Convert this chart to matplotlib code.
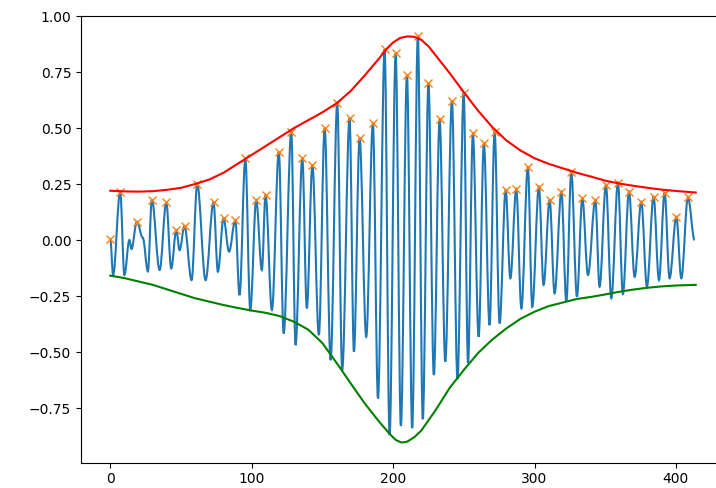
import matplotlib
matplotlib.use("Agg")
import matplotlib.pyplot as plt
from matplotlib.path import Path
from matplotlib.patches import PathPatch

# Blue signal: turning points (x, y)
sig_x = [0, 2, 7, 10, 13.5, 15, 18.8, 23, 26.6, 29.4, 34.9, 39.6, 43.1, 46.7, 49, 52.5,
         57.5, 61.5, 67.4, 73, 76.1, 80.1, 84, 88.4, 91.4, 95.5, 99, 103.2, 107.2, 109.8,
         114.3, 119.2, 122.6, 128, 131, 135.8, 139, 142.9, 147.5, 151.6, 155.8, 160.5,
         164, 169.2, 172.3, 176.3, 181, 185.7, 189.3, 194, 197.5, 201.8, 205.5, 209.8,
         213.5, 217.5, 221, 225, 228.8, 232.9, 236.9, 241.6, 245.5, 249.9, 253, 256.4,
         260.5, 264.2, 268.2, 271.8, 275.3, 279.6, 282.9, 287.1, 290.7, 295.3, 298.4,
         303.1, 306.4, 310.7, 314.2, 319, 322.5, 326, 330, 333.8, 337.8, 343, 346, 350.5,
         354.3, 359, 362.5, 366.8, 370.8, 375.5, 379.5, 384.2, 388, 392, 395.5, 400.3,
         403.8, 408.5, 413.2]
sig_y = [0.005, -0.156, 0.216, -0.156, 0.0, -0.04, 0.082, 0.01, -0.14, 0.179, -0.134, 0.168,
         -0.127, 0.045, -0.045, 0.062, -0.179, 0.25, -0.179, 0.168, -0.141, 0.097, -0.052,
         0.089, -0.246, 0.365, -0.3125, 0.179, -0.134, 0.20, -0.3125, 0.394, -0.417, 0.483,
         -0.469, 0.365, -0.305, 0.335, -0.424, 0.499, -0.536, 0.61, -0.58, 0.543, -0.499,
         0.454, -0.432, 0.521, -0.707, 0.851, -0.87, 0.833, -0.83, 0.737, -0.84, 0.91,
         -0.80, 0.70, -0.603, 0.539, -0.543, 0.622, -0.62, 0.655, -0.55, 0.476, -0.432,
         0.432, -0.38, 0.484, -0.372, 0.223, -0.171, 0.228, -0.305, 0.327, -0.298, 0.238,
         -0.2, 0.179, -0.238, 0.216, -0.275, 0.305, -0.253, 0.186, -0.156, 0.179, -0.208,
         0.246, -0.26, 0.256, -0.241, 0.216, -0.164, 0.171, -0.208, 0.193, -0.179, 0.211,
         -0.171, 0.104, -0.171, 0.19, 0.0]

# Detected peaks (orange crosses)
peak_x = [0, 7, 18.8, 29.4, 39.6, 46.7, 52.5, 61.5, 73, 80.1, 88.4, 95.5, 103.2, 109.8,
          119.2, 128, 135.8, 142.9, 151.6, 160.5, 169.2, 176.3, 185.7, 194, 201.8, 209.8,
          217.5, 225, 232.9, 241.6, 249.9, 256.4, 264.2, 271.8, 279.6, 287.1, 295.3, 303.1,
          310.7, 319, 326, 333.8, 343, 350.5, 359, 366.8, 375.5, 384.2, 392, 400.3, 408.5]
peak_y = [0.005, 0.216, 0.082, 0.179, 0.168, 0.045, 0.062, 0.25, 0.168, 0.097, 0.089, 0.365,
          0.179, 0.20, 0.394, 0.483, 0.365, 0.335, 0.499, 0.61, 0.543, 0.454, 0.521, 0.851,
          0.833, 0.737, 0.91, 0.70, 0.539, 0.622, 0.655, 0.476, 0.432, 0.484, 0.223, 0.228,
          0.327, 0.238, 0.179, 0.216, 0.305, 0.186, 0.179, 0.246, 0.256, 0.216, 0.171, 0.193,
          0.211, 0.104, 0.19]

# Upper envelope (red)
up_x = [0, 10, 20, 30, 40, 50, 60, 70, 80, 90, 100, 110, 120, 130, 140, 150, 160, 170, 180,
        190, 195, 200, 205, 210, 215, 220, 225, 230, 240, 250, 260, 270, 280, 290, 300, 310,
        320, 330, 340, 350, 360, 370, 380, 390, 400, 414]
up_y = [0.22, 0.217, 0.216, 0.218, 0.224, 0.233, 0.25, 0.27, 0.30, 0.34, 0.38, 0.42, 0.46,
        0.50, 0.535, 0.57, 0.61, 0.665, 0.735, 0.81, 0.85, 0.882, 0.902, 0.909, 0.907, 0.893,
        0.865, 0.825, 0.745, 0.66, 0.578, 0.505, 0.445, 0.40, 0.365, 0.34, 0.32, 0.30, 0.283,
        0.265, 0.252, 0.242, 0.233, 0.225, 0.219, 0.212]

# Lower envelope (green)
lo_x = [0, 10, 20, 30, 40, 50, 60, 70, 80, 90, 100, 110, 120, 130, 140, 150, 162, 170, 180,
        190, 197.5, 202, 206, 210, 215, 220, 230, 240, 250, 260, 270, 280, 290, 300, 310,
        322.5, 330, 340, 350, 360, 370, 380, 390, 400, 414]
lo_y = [-0.159, -0.17, -0.185, -0.20, -0.22, -0.24, -0.26, -0.275, -0.29, -0.303, -0.315,
        -0.325, -0.34, -0.365, -0.40, -0.46, -0.566, -0.64, -0.73, -0.81, -0.865, -0.893,
        -0.904, -0.9, -0.88, -0.85, -0.76, -0.66, -0.58, -0.505, -0.445, -0.395, -0.352,
        -0.32, -0.295, -0.275, -0.263, -0.254, -0.243, -0.231, -0.221, -0.213, -0.207,
        -0.203, -0.20]

fig = plt.figure(figsize=(7.16, 4.88), dpi=100)
ax = fig.add_axes([81 / 716, 25.3 / 488, 644 / 716, 446.7 / 488])

# smooth wave through the turning points (horizontal tangent at each turning point)
verts = [(sig_x[0], sig_y[0])]
codes = [Path.MOVETO]
for i in range(len(sig_x) - 1):
    d = (sig_x[i + 1] - sig_x[i]) * 0.36
    verts += [(sig_x[i] + d, sig_y[i]), (sig_x[i + 1] - d, sig_y[i + 1]),
              (sig_x[i + 1], sig_y[i + 1])]
    codes += [Path.CURVE4] * 3
ax.add_patch(PathPatch(Path(verts, codes), facecolor="none", edgecolor="C0", lw=1.5))

ax.plot(peak_x, peak_y, "x", color="C1")
ax.plot(up_x, up_y, color="r", lw=1.5)
ax.plot(lo_x, lo_y, color="g", lw=1.5)
ax.set_xlim(-20.7, 434.7)
ax.set_ylim(-0.994, 1.0)
ax.set_xticks([0, 100, 200, 300, 400])
ax.set_yticks([-0.75, -0.5, -0.25, 0, 0.25, 0.5, 0.75, 1.0])
ax.tick_params(labelsize=10)
fig.savefig("out.png", dpi=100)
